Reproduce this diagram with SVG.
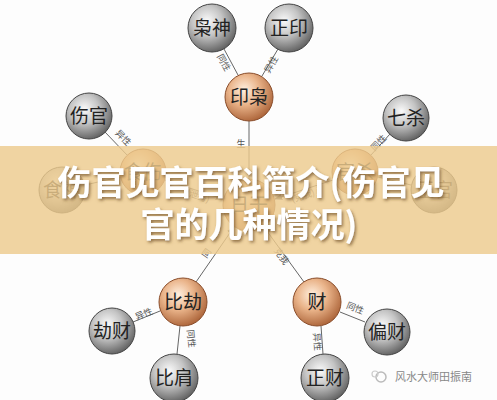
<svg xmlns="http://www.w3.org/2000/svg" width="497" height="400" viewBox="0 0 497 400">
<defs>
<radialGradient id="gGray" cx="40%" cy="35%" r="70%">
<stop offset="0" stop-color="#fafafa"/>
<stop offset="0.45" stop-color="#c4c4c4"/>
<stop offset="1" stop-color="#5a5a5a"/>
</radialGradient>
<radialGradient id="gOrange" cx="40%" cy="35%" r="70%">
<stop offset="0" stop-color="#fff0e0"/>
<stop offset="0.45" stop-color="#eab48a"/>
<stop offset="1" stop-color="#a85f34"/>
</radialGradient>
<marker id="arr" viewBox="0 0 10 10" refX="9" refY="5" markerWidth="8" markerHeight="8" orient="auto" markerUnits="userSpaceOnUse">
<path d="M0,1 L10,5 L0,9 z" fill="#555"/>
</marker>
<filter id="sh" x="-10%" y="-30%" width="120%" height="160%">
<feDropShadow dx="1.5" dy="2" stdDeviation="1.5" flood-color="#6b4a20" flood-opacity="0.7"/>
</filter>
<style>
.ln{stroke:#666;stroke-width:1;fill:none}
.g{fill:url(#gGray);stroke:#444;stroke-width:1}
.o{fill:url(#gOrange);stroke:#8a4d2a;stroke-width:1}
.t{font-family:"Noto Sans CJK SC","Noto Sans CJK JP",sans-serif;font-size:19px;fill:#222;text-anchor:middle}
.s{font-family:"Noto Sans CJK SC","Noto Sans CJK JP",sans-serif;font-size:9px;fill:#555;text-anchor:middle}
.title{font-family:"Noto Sans CJK SC","Noto Sans CJK JP",sans-serif;font-size:34px;font-weight:bold;fill:#fff;text-anchor:middle}
</style>
</defs>
<rect width="497" height="400" fill="#fdfdfd"/>
<g id="connectors">
<line class="ln" x1="224" y1="49" x2="238" y2="75"/>
<line class="ln" x1="278" y1="49" x2="262" y2="76"/>
<line class="ln" x1="249" y1="121" x2="249" y2="179"/>
<line class="ln" x1="105" y1="132" x2="127" y2="155"/>
<line class="ln" x1="85" y1="185" x2="120" y2="177"/>
<line class="ln" x1="165" y1="180" x2="223" y2="199" marker-end="url(#arr)"/>
<line class="ln" x1="390" y1="134" x2="371" y2="155"/>
<line class="ln" x1="411" y1="185" x2="378" y2="177"/>
<line class="ln" x1="333" y1="180" x2="275" y2="199" marker-end="url(#arr)"/>
<line class="ln" x1="196" y1="282" x2="234" y2="227" marker-end="url(#arr)"/>
<line class="ln" x1="133" y1="322" x2="160" y2="311"/>
<line class="ln" x1="177" y1="354" x2="180" y2="326"/>
<line class="ln" x1="304" y1="282" x2="264" y2="227" marker-end="url(#arr)"/>
<line class="ln" x1="340" y1="312" x2="365" y2="322"/>
<line class="ln" x1="321" y1="326" x2="323" y2="354"/>
<text class="s" transform="translate(221,64) rotate(61)">同性</text>
<text class="s" transform="translate(274,66) rotate(-60)">异性</text>
<text class="s" transform="translate(121,140) rotate(46)">异性</text>
<text class="s" transform="translate(381,145) rotate(-47)">同性</text>
<text class="s" transform="translate(145,317) rotate(-22)">异性</text>
<text class="s" transform="translate(188,339) rotate(84)">同性</text>
<text class="s" transform="translate(354,311) rotate(22)">同性</text>
<text class="s" transform="translate(314,342) rotate(86)">异性</text>
<text class="s" x="241" y="147">生</text>
<text class="s" x="197" y="199" transform="rotate(18 197 199)">(泄秀)</text>
<text class="s" x="304" y="199" transform="rotate(-18 304 199)">(克我)</text>
<text class="s" transform="translate(209,255) rotate(-55)">同</text>
<text class="s" transform="translate(279,258) rotate(55)">克我</text>
</g>
<g id="n-xiaoshen"><circle class="g" cx="212" cy="28" r="24"/><text class="t" x="212" y="35">枭神</text></g>
<g id="n-zhengyin"><circle class="g" cx="289" cy="28" r="24"/><text class="t" x="289" y="35">正印</text></g>
<g id="n-yinxiao"><circle class="o" cx="249" cy="97" r="24"/><text class="t" x="249" y="104">印枭</text></g>
<g id="n-shangguan"><circle class="g" cx="89" cy="116" r="23"/><text class="t" x="89" y="123">伤官</text></g>
<g id="n-qisha"><circle class="g" cx="406" cy="118" r="23"/><text class="t" x="406" y="125">七杀</text></g>
<g id="n-shishen"><circle class="g" cx="62" cy="190" r="23"/><text class="t" x="62" y="197">食神</text></g>
<g id="n-shishang"><circle class="o" cx="143" cy="172" r="23"/><text class="t" x="143" y="179">食伤</text></g>
<g id="n-riguan"><circle class="o" cx="249" cy="205" r="26"/><text class="t" x="249" y="212">日干</text></g>
<g id="n-guansha"><circle class="o" cx="355" cy="172" r="23"/><text class="t" x="355" y="179">官杀</text></g>
<g id="n-zhengguan"><circle class="g" cx="434" cy="190" r="23"/><text class="t" x="434" y="197">正官</text></g>
<g id="n-bijie"><circle class="o" cx="183" cy="302" r="24"/><text class="t" x="183" y="309">比劫</text></g>
<g id="n-jiecai"><circle class="g" cx="112" cy="331" r="23"/><text class="t" x="112" y="338">劫财</text></g>
<g id="n-bijian"><circle class="g" cx="174" cy="378" r="24"/><text class="t" x="174" y="385">比肩</text></g>
<g id="n-cai"><circle class="o" cx="317" cy="302" r="24"/><text class="t" x="317" y="309">财</text></g>
<g id="n-piancai"><circle class="g" cx="387" cy="332" r="23"/><text class="t" x="387" y="339">偏财</text></g>
<g id="n-zhengcai"><circle class="g" cx="325" cy="378" r="24"/><text class="t" x="325" y="385">正财</text></g>
<g id="watermark">
<circle cx="381" cy="377" r="5" fill="none" stroke="#bbb" stroke-width="1.5"/>
<circle cx="375" cy="374" r="3" fill="none" stroke="#ccc" stroke-width="1.2"/>
<text x="395" y="381" font-family="Noto Sans CJK SC, sans-serif" font-size="11" fill="#888">风水大师田振南</text>
</g>
<rect x="0" y="146" width="497" height="108" fill="#edcb8e" opacity="0.82"/>
<g filter="url(#sh)">
<text class="title" x="251" y="195">伤官见官百科简介(伤官见</text>
<text class="title" x="249" y="237">官的几种情况)</text>
</g>
</svg>
